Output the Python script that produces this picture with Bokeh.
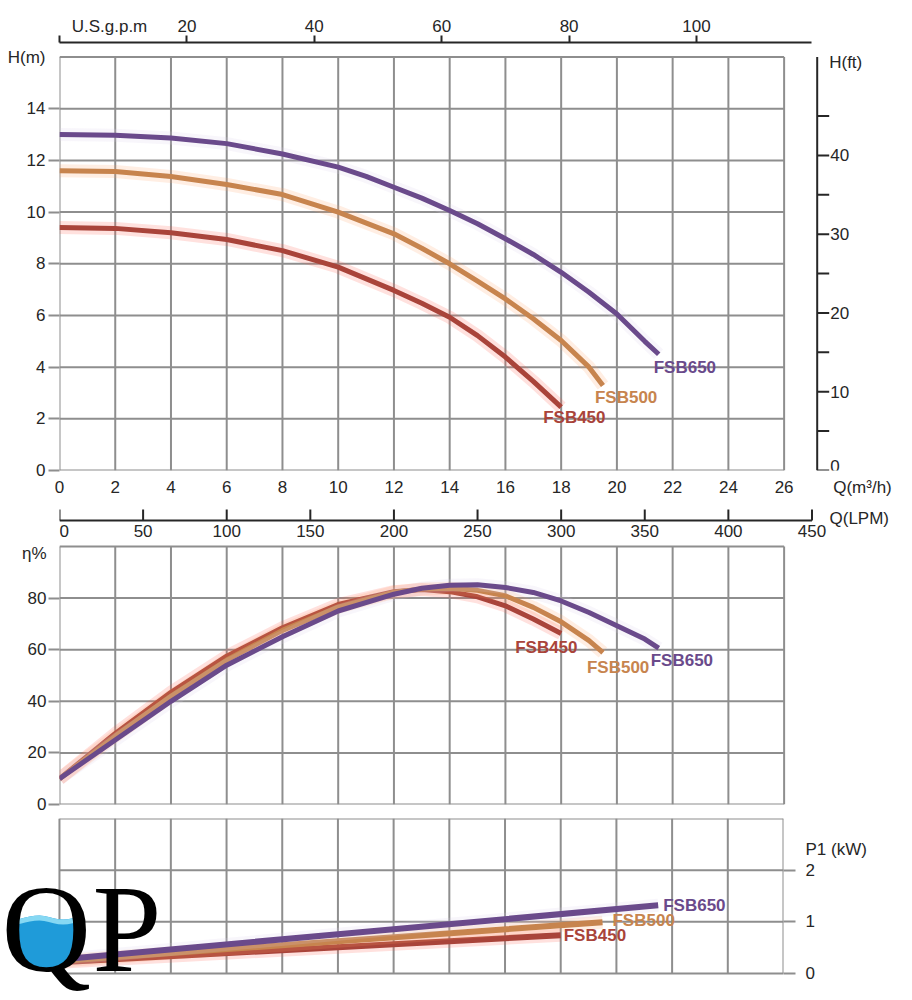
import numpy as np
from bokeh.plotting import figure
from bokeh.models import Range1d, LinearAxis, FixedTicker, Label, PolyAnnotation
from bokeh.core.properties import value
from bokeh.embed import file_html
from bokeh.resources import INLINE

# ---- values ----
models = ["FSB450", "FSB500", "FSB650"]

# head H (m) against flow Q (m3/h)
q_h450 = [0, 2, 4, 6, 8, 10, 12, 13, 14, 15, 16, 17, 18]
h450 = [9.40, 9.37, 9.20, 8.94, 8.51, 7.87, 6.97, 6.47, 5.93, 5.22, 4.39, 3.45, 2.45]
q_h500 = [0, 2, 4, 6, 8, 10, 12, 13, 14, 15, 16, 17, 18, 19, 19.5]
h500 = [11.60, 11.57, 11.38, 11.07, 10.68, 10.00, 9.16, 8.60, 8.00, 7.33, 6.64, 5.87, 5.03, 4.00, 3.29]
q_h650 = [0, 2, 4, 6, 8, 10, 11, 12, 13, 14, 15, 16, 17, 18, 19, 20, 21, 21.5]
h650 = [13.00, 12.97, 12.87, 12.65, 12.25, 11.74, 11.38, 10.96, 10.54, 10.06, 9.55, 8.97, 8.36,
        7.67, 6.90, 6.06, 5.00, 4.50]

# efficiency (%)
q_e450 = [0, 2, 4, 6, 8, 10, 12, 13, 14, 15, 16, 17, 18]
e450 = [10, 27.5, 43.5, 57.5, 68.5, 77.5, 82.5, 83.3, 82.5, 80.5, 77.0, 71.9, 66.3]
q_e500 = [0, 2, 4, 6, 8, 10, 12, 13, 14, 15, 16, 17, 18, 19, 19.5]
e500 = [10, 26.5, 42, 56, 67.5, 76.5, 82.3, 83.5, 83.8, 83.0, 80.9, 76.4, 70.8, 63.5, 58.9]
q_e650 = [0, 2, 4, 6, 8, 10, 12, 13, 14, 15, 16, 17, 18, 19, 20, 21, 21.5]
e650 = [10, 25, 40, 54, 65, 75, 81.5, 83.8, 85.0, 85.2, 84.1, 82.2, 78.9, 74.4, 69.3, 64.1, 60.6]

# input power P1 (kW)
q_p450 = [0, 10, 18]
p450 = [0.22, 0.51, 0.74]
q_p500 = [0, 10, 19.5]
p500 = [0.24, 0.625, 0.99]
q_p650 = [0, 10, 21.5]
p650 = [0.27, 0.76, 1.32]

# axis ticks
q_ticks = list(range(0, 27, 2))
h_ticks = list(range(0, 15, 2))
h_grid = list(range(0, 17, 2))
ft_ticks = [0, 10, 20, 30, 40]
ft_minor = [5, 15, 25, 35, 45]
gpm_ticks = [0, 20, 40, 60, 80, 100]
lpm_ticks = list(range(0, 451, 50))
eff_ticks = [0, 20, 40, 60, 80]
eff_grid = [0, 20, 40, 60, 80, 100]
p1_ticks = [0, 1, 2]
p1_grid = [0, 1, 2, 3]

GPM_PER_M3H = 4.375
LPM_PER_M3H = 16.667
FT_PER_M = 3.281

# ---- styling ----
FONT = "Liberation Sans"
GRID = "#8e8e8e"
INK = "#262626"
COLORS = {"FSB450": "#a9443a", "FSB500": "#c7844e", "FSB650": "#6a4a8b"}
GLOW = {"FSB450": "#ff5a4a", "FSB500": "#ffa066", "FSB650": "#d8cce8"}
PX = 27.87      # pixels per m3/h, same in all three panels
X0 = 59         # page x of Q = 0


def tx(px):
    return (px - X0) / PX


def axis_style(ax):
    ax.major_label_text_font = FONT
    ax.major_label_text_font_size = "17px"
    ax.major_label_text_color = INK
    ax.major_tick_in = 0
    ax.minor_tick_in = 0
    ax.major_tick_out = 0
    ax.axis_line_color = None


def curves(p, series, width, glow_width):
    for name, qs, vs in series:
        p.line(qs, vs, line_color=GLOW[name], line_width=glow_width, line_alpha=0.18)
        p.line(qs, vs, line_color=COLORS[name], line_width=width, line_join="round")


def tags(p, series, offsets):
    for name, qs, vs in series:
        dx, dy = offsets[name]
        p.text(x=[qs[-1]], y=[vs[-1]], text=[name], text_font=value(FONT),
               text_font_style="bold", text_font_size="17px", text_color=COLORS[name],
               text_align="left", text_baseline="middle", x_offset=dx, y_offset=dy)


def plain_text(p, xs, ys, texts, align="center", dx=0, dy=0):
    p.text(x=xs, y=ys, text=texts, text_font=value(FONT), text_font_size="17px",
           text_color=INK, text_align=align, text_baseline="middle", x_offset=dx, y_offset=dy)


# ================= head chart (page y 0..505) =================
top = figure(width=910, height=505, x_range=Range1d(0, 851 / PX), y_range=Range1d(0, 428 / 25.84),
             min_border_left=59, min_border_right=0, min_border_top=42, min_border_bottom=35,
             x_axis_location=None, y_axis_location=None,
             output_backend="svg", toolbar_location=None)
top.outline_line_color = None
top.grid.visible = False

# grid over the 0..26 x 0..16 block
top.segment(x0=q_ticks, y0=0, x1=q_ticks, y1=16, line_color=GRID, line_width=2)
top.segment(x0=0, y0=h_grid, x1=26, y1=h_grid, line_color=GRID, line_width=2)

ax_h = LinearAxis(ticker=FixedTicker(ticks=h_ticks + [16], minor_ticks=h_ticks), bounds=(0, 16),
                  major_label_overrides={16: "H(m)"})
axis_style(ax_h)
ax_h.minor_tick_out = 11
ax_h.minor_tick_line_color = GRID
ax_h.minor_tick_line_width = 2
ax_h.major_label_standoff = 3
top.add_layout(ax_h, "left")

top.extra_x_ranges = {"gpm": Range1d(0, 851 / PX * GPM_PER_M3H)}
gpm_title_at = tx(109) * GPM_PER_M3H
ax_gpm = LinearAxis(x_range_name="gpm", bounds=(0, 118),
                    ticker=FixedTicker(ticks=[gpm_title_at] + gpm_ticks[1:], minor_ticks=gpm_ticks),
                    major_label_overrides={gpm_title_at: "U.S.g.p.m"})
axis_style(ax_gpm)
ax_gpm.axis_line_color = INK
ax_gpm.axis_line_width = 2
ax_gpm.minor_tick_out = 7
ax_gpm.minor_tick_line_color = INK
ax_gpm.minor_tick_line_width = 2
ax_gpm.major_label_standoff = 0
top.add_layout(ax_gpm, "above")

q_title_at = tx(862)
ax_q = LinearAxis(ticker=FixedTicker(ticks=q_ticks + [q_title_at]),
                  major_label_overrides={q_title_at: "Q(m³/h)"})
axis_style(ax_q)
ax_q.major_label_standoff = 7
top.add_layout(ax_q, "below")

# feet scale on the right of the grid
FT_X = tx(816.7)
ft_all = sorted(ft_ticks + ft_minor)
top.segment(x0=[FT_X], y0=[0], x1=[FT_X], y1=[16], line_color=INK, line_width=2)
top.segment(x0=FT_X, y0=[v / FT_PER_M for v in ft_all], x1=FT_X + 12 / PX,
            y1=[v / FT_PER_M for v in ft_all], line_color=INK, line_width=2)
plain_text(top, FT_X, [v / FT_PER_M for v in ft_ticks[1:]], [str(v) for v in ft_ticks[1:]],
           align="left", dx=13)
# the zero sits just above the bottom edge of the drawing area
top.text(x=[FT_X], y=[0], text=[str(ft_ticks[0])], text_font=value(FONT), text_font_size="17px",
         text_color=INK, text_align="left", text_baseline="bottom", x_offset=13, y_offset=1)
plain_text(top, [FT_X], [(470 - 62) / 25.84], ["H(ft)"], align="left", dx=12)

head = [("FSB450", q_h450, h450), ("FSB500", q_h500, h500), ("FSB650", q_h650, h650)]
curves(top, head, 5, 13)
tags(top, head, {"FSB450": (-18, 10), "FSB500": (-8, 12), "FSB650": (-5, 13)})

# ================= efficiency chart (page y 505..816) =================
EPX = 2.58
mid = figure(width=910, height=311, x_range=Range1d(0, 851 / PX), y_range=Range1d(0, 299 / EPX),
             min_border_left=59, min_border_right=0, min_border_top=0, min_border_bottom=12,
             x_axis_location=None, y_axis_location=None,
             output_backend="svg", toolbar_location=None)
mid.outline_line_color = None
mid.grid.visible = False
mid.segment(x0=q_ticks, y0=0, x1=q_ticks, y1=100, line_color=GRID, line_width=2)
mid.segment(x0=0, y0=eff_grid, x1=26, y1=eff_grid, line_color=GRID, line_width=2)

ax_e = LinearAxis(ticker=FixedTicker(ticks=eff_ticks + [97.3], minor_ticks=eff_ticks),
                  bounds=(0, 100), major_label_overrides={97.3: "η%"})
axis_style(ax_e)
ax_e.minor_tick_out = 11
ax_e.minor_tick_line_color = GRID
ax_e.minor_tick_line_width = 2
ax_e.major_label_standoff = 2
mid.add_layout(ax_e, "left")

# litres per minute scale above the efficiency grid
LPM_Y = (804 - 520) / EPX
lpm_q = [v / LPM_PER_M3H for v in lpm_ticks]
mid.segment(x0=[0], y0=[LPM_Y], x1=[450 / LPM_PER_M3H], y1=[LPM_Y], line_color=INK, line_width=2)
mid.segment(x0=lpm_q, y0=LPM_Y, x1=lpm_q, y1=LPM_Y + 11 / EPX, line_color=INK, line_width=2)
plain_text(mid, lpm_q[1:], LPM_Y, [str(v) for v in lpm_ticks[1:]], dy=10)
plain_text(mid, lpm_q[:1], LPM_Y, [str(lpm_ticks[0])], align="left", dx=0, dy=10)
plain_text(mid, [tx(829)], [LPM_Y], ["Q(LPM)"], align="left", dy=-2)

eff = [("FSB450", q_e450, e450), ("FSB500", q_e500, e500), ("FSB650", q_e650, e650)]
curves(mid, eff, 5, 13)
tags(mid, eff, {"FSB450": (-46, 14), "FSB500": (-16, 15), "FSB650": (-8, 12)})

# ================= power chart (page y 816..998) =================
PPX = 51.67
bot = figure(width=910, height=182, x_range=Range1d(-X0 / PX, 26),
             y_range=Range1d(-25 / PPX, 3),
             min_border_left=0, min_border_right=127, min_border_top=2, min_border_bottom=0,
             x_axis_location=None, y_axis_location=None,
             output_backend="svg", toolbar_location=None)
bot.outline_line_color = None
bot.grid.visible = False
bot.segment(x0=q_ticks, y0=0, x1=q_ticks, y1=3, line_color=GRID, line_width=2)
bot.segment(x0=0, y0=p1_grid, x1=26, y1=p1_grid, line_color=GRID, line_width=2)

ax_p = LinearAxis(ticker=FixedTicker(ticks=p1_ticks + [2.4], minor_ticks=p1_ticks),
                  bounds=(0, 3), major_label_overrides={2.4: "P1 (kW)"})
axis_style(ax_p)
ax_p.minor_tick_out = 12
ax_p.minor_tick_line_color = GRID
ax_p.minor_tick_line_width = 2
ax_p.major_label_standoff = 10
bot.add_layout(ax_p, "right")

power = [("FSB450", q_p450, p450), ("FSB500", q_p500, p500), ("FSB650", q_p650, p650)]
curves(bot, power, 6, 13)
tags(bot, power, {"FSB450": (3, 0), "FSB500": (10, -2), "FSB650": (5, 0)})


def by(py):
    return (973 - py) / PPX


# QP logo, with water in the bowl of the Q
cx, cy, rx, ry, water = 46, 931, 33, 39, 917
ang = np.arcsin(np.clip((water - cy) / ry, -1, 1))
t2 = np.linspace(ang, np.pi - ang, 70)
bx_ = cx + rx * np.cos(t2)
by_ = cy + ry * np.sin(t2)
wave_x = np.linspace(bx_[-1], bx_[0], 14)
wave_y = water + 2.0 * np.sin(wave_x / 8.0)
xs = list(bx_) + list(wave_x)
ys = list(by_) + list(wave_y)
bot.add_layout(PolyAnnotation(xs=[tx(v) for v in xs], ys=[by(v) for v in ys],
                              fill_color="#1f9bd9", fill_alpha=1, line_color=None))
band_x = list(wave_x) + list(wave_x[::-1])
band_y = list(wave_y) + list(wave_y[::-1] + 5)
bot.add_layout(PolyAnnotation(xs=[tx(v) for v in band_x], ys=[by(v) for v in band_y],
                              fill_color="#86d8f3", fill_alpha=1, line_color=None))
bot.add_layout(Label(x=tx(1), y=by(997), text="Q", text_font="Liberation Serif",
                     text_font_size="124px", text_color="black", text_baseline="bottom"))
bot.add_layout(Label(x=tx(92), y=by(997), text="P", text_font="Liberation Serif",
                     text_font_size="124px", text_color="black", text_baseline="bottom"))

open("out.html", "w").write(file_html([top, mid, bot], INLINE))
